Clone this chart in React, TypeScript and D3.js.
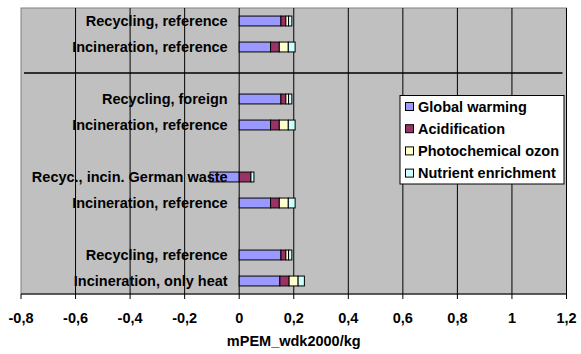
import React from "react";
import * as d3 from "d3";

// Scenario rows, top to bottom; empty strings are spacer rows between groups
const categories: string[] = [
  "Recycling, reference",
  "Incineration, reference",
  "",
  "Recycling, foreign",
  "Incineration, reference",
  "",
  "Recyc., incin. German waste",
  "Incineration, reference",
  "",
  "Recycling, reference",
  "Incineration, only heat",
];

const seriesNames: string[] = [
  "Global warming",
  "Acidification",
  "Photochemical ozon",
  "Nutrient enrichment",
];

// mPEM_wdk2000/kg per impact category (null = spacer row)
const globalWarming: (number | null)[] = [0.153, 0.115, null, 0.153, 0.115, null, -0.107, 0.115, null, 0.153, 0.149];
const acidification: (number | null)[] = [0.018, 0.032, null, 0.018, 0.032, null, 0.043, 0.032, null, 0.018, 0.034];
const photochemicalOzone: (number | null)[] = [0.01, 0.033, null, 0.01, 0.033, null, 0, 0.033, null, 0.01, 0.033];
const nutrientEnrichment: (number | null)[] = [0.012, 0.025, null, 0.012, 0.025, null, 0.011, 0.025, null, 0.012, 0.023];

const xTicks: number[] = [-0.8, -0.6, -0.4, -0.2, 0, 0.2, 0.4, 0.6, 0.8, 1, 1.2];

const colors = ["#9999FF", "#993366", "#FFFFCC", "#CCFFFF"];

const W = 581;
const H = 354;
const plot = { left: 21, right: 566.5, top: 8, bottom: 294 };
const FONT = "'Liberation Sans', Arial, sans-serif";
const FS = 14.5;

export default function App() {
  const x = d3.scaleLinear().domain([-0.8, 1.2]).range([plot.left, plot.right]);
  const idx = categories.map((_, i) => String(i));
  const pad = 0.62;
  const y = d3
    .scaleBand<string>()
    .domain(idx)
    .range([plot.top, plot.bottom])
    .paddingInner(pad)
    .paddingOuter(pad / 2);

  const rows = categories.map((_, i) => ({
    i: String(i),
    s0: globalWarming[i] ?? 0,
    s1: acidification[i] ?? 0,
    s2: photochemicalOzone[i] ?? 0,
    s3: nutrientEnrichment[i] ?? 0,
  }));
  const stack = d3
    .stack<any>()
    .keys(["s0", "s1", "s2", "s3"])
    .offset(d3.stackOffsetDiverging);
  const layers = stack(rows);

  const fmt = (v: number) => String(+v.toFixed(1)).replace(".", ",");
  const centerY = (i: number) => (y(String(i)) as number) + y.bandwidth() / 2;

  const legend = { x: 400, y: 95.5, w: 164, h: 88.5 };

  return (
    <svg
      width={W}
      height={H}
      style={{ position: "absolute", left: 0, top: 0, display: "block", background: "#fff" }}
      fontFamily={FONT}
      fontWeight="bold"
    >
      {/* plot area */}
      <rect x={plot.left} y={plot.top} width={plot.right - plot.left} height={plot.bottom - plot.top} fill="#C0C0C0" stroke="#808080" strokeWidth={1} />

      {/* vertical gridlines */}
      {xTicks.slice(1).map((t) => (
        <line key={"g" + t} x1={x(t)} x2={x(t)} y1={plot.top} y2={plot.bottom} stroke="#000" strokeWidth={1} />
      ))}

      {/* group separator */}
      <line x1={plot.left + 3} x2={plot.right - 4} y1={centerY(2)} y2={centerY(2)} stroke="#000" strokeWidth={1.3} />

      {/* stacked bars */}
      {layers.map((layer, k) => (
        <g key={"l" + k}>
          {layer.map((d, i) => {
            if (globalWarming[i] === null) return null;
            const a = x(d[0]);
            const b = x(d[1]);
            if (Math.abs(b - a) < 0.01) return null;
            return (
              <rect
                key={i}
                x={Math.min(a, b)}
                y={y(String(i))}
                width={Math.abs(b - a)}
                height={y.bandwidth()}
                fill={colors[k]}
                stroke="#000"
                strokeWidth={1}
              />
            );
          })}
        </g>
      ))}

      {/* category labels beside the zero axis */}
      {categories.map((c, i) =>
        c ? (
          <text key={"c" + i} x={x(0) - 11.5} y={centerY(i)} dy="0.36em" textAnchor="end" fontSize={FS} fill="#000">
            {c}
          </text>
        ) : null
      )}

      {/* value axis */}
      <line x1={plot.left} x2={plot.right} y1={plot.bottom} y2={plot.bottom} stroke="#000" strokeWidth={1} />
      {xTicks.map((t) => (
        <g key={"t" + t}>
          <line x1={x(t)} x2={x(t)} y1={plot.bottom} y2={plot.bottom + 5} stroke="#000" strokeWidth={1} />
          <text x={x(t)} y={317.5} dy="0.36em" textAnchor="middle" fontSize={FS} fill="#000">
            {fmt(t)}
          </text>
        </g>
      ))}
      <text x={(plot.left + plot.right) / 2} y={341} dy="0.36em" textAnchor="middle" fontSize={FS} fill="#000">
        mPEM_wdk2000/kg
      </text>

      {/* legend */}
      <rect x={legend.x} y={legend.y} width={legend.w} height={legend.h} fill="#fff" stroke="#000" strokeWidth={1} />
      {seriesNames.map((n, k) => {
        const cy = legend.y + 11 + k * 22.2;
        return (
          <g key={"lg" + k}>
            <rect x={405.5} y={cy - 4} width={8} height={8} fill={colors[k]} stroke="#000" strokeWidth={1} />
            <text x={418} y={cy} dy="0.36em" fontSize={FS} fill="#000">
              {n}
            </text>
          </g>
        );
      })}
    </svg>
  );
}
